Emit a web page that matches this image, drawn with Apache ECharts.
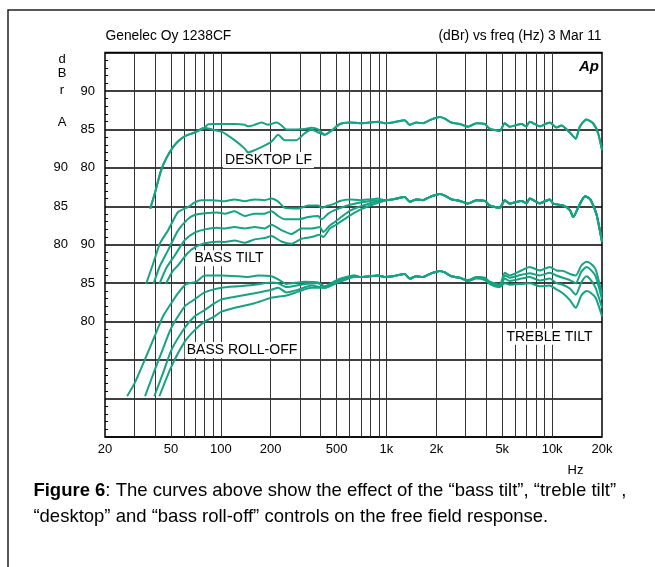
<!DOCTYPE html>
<html>
<head>
<meta charset="utf-8">
<script src="https://cdn.jsdelivr.net/npm/echarts@6.0.0/dist/echarts.min.js"></script>
<style>
html,body{margin:0;padding:0;background:#fff;}
#c{width:655px;height:567px;}
</style>
</head>
<body>
<div id="c"></div>
<script>
// ---------- axis ticks / labels ----------
const xLabelValues = [20, 50, 100, 200, 500, 1000, 2000, 5000, 10000, 20000];
const xLabelTexts  = ['20', '50', '100', '200', '500', '1k', '2k', '5k', '10k', '20k'];
const xGridValues  = [30, 40, 50, 60, 70, 80, 90, 100, 200, 300, 400, 500, 600, 700, 800, 900,
                      1000, 2000, 3000, 4000, 5000, 6000, 7000, 8000, 9000, 10000];
const yLabelValues = [80, 85, 90];

// ---------- shared mid / high band (dBr) ----------
const midFreq  = [523, 600, 690, 792, 889, 976, 1096, 1288, 1382, 1516, 1662, 1824, 2096, 2247,
                  2466, 2768, 3108, 3490, 3920, 4200, 4828, 5176, 5546, 6524, 6996, 7328, 8420, 9674];
const midLevel = [85.7, 85.9, 85.8, 85.9, 86.0, 85.8, 85.9, 86.2, 85.6, 85.9, 85.8, 86.2, 86.6, 86.4,
                  85.9, 85.7, 85.35, 85.8, 85.7, 85.1, 84.8, 85.8, 85.35, 85.7, 85.4, 86.0, 85.4, 85.9];

// ---------- DESKTOP LF group ----------
const deskFlatFreq  = [37.5, 40, 43.5, 47, 51.5, 55.5, 60.5, 69.6, 79.6, 83.7, 92, 100, 121, 139.5, 146,
                       160, 176, 193, 217, 230, 249, 286, 321, 352, 387, 424, 470];
const deskFlatLevel = [74.7, 76.7, 79.6, 81.3, 82.7, 83.5, 84.1, 84.6, 85.2, 85.65, 85.7, 85.7, 85.7, 85.6, 85.4,
                       85.6, 85.9, 85.6, 85.9, 85.6, 85.0, 85.0, 85.05, 85.2, 85.0, 84.3, 84.9];
const deskOnFreq    = [37.5, 40, 43.5, 47, 51.5, 55.5, 60.5, 69.6, 79.6, 92, 101, 121, 139.5, 146, 160,
                       176, 202, 222, 243, 286, 321, 352, 387, 424, 470];
const deskOnLevel   = [74.7, 76.7, 79.6, 81.3, 82.7, 83.5, 84.1, 84.6, 85.2, 84.9, 84.7, 83.6, 82.5, 82.0, 82.3,
                       82.7, 83.4, 84.3, 83.6, 83.6, 84.5, 85.0, 84.6, 84.3, 84.9];
const deskTailFreq  = [10612, 11378, 12778, 13888, 14680, 16100, 17674, 18946, 20000];
const deskTailLevel = [85.26, 85.5, 84.6, 83.8, 85.35, 86.3, 85.8, 84.5, 82.3];

// ---------- BASS TILT group ----------
const tilt0Freq  = [35.4, 39, 43, 48.1, 55.2, 63.4, 69.6, 76.4, 90, 105.6, 121, 139.5, 160, 184, 202,
                    222, 243, 293, 337, 387, 405, 445, 488];
const tilt0Level = [74.9, 77.5, 80.2, 81.9, 84.26, 84.9, 85.5, 85.8, 85.8, 85.65, 85.9, 85.65, 85.9, 85.8, 86.0,
                    85.6, 84.8, 84.7, 85.1, 85.1, 84.8, 85.1, 85.35];
const tilt1Freq  = [39.2, 43, 48.1, 55, 63, 70, 80, 95, 105.6, 121, 139.5, 160, 184, 202, 222, 243, 293,
                    337, 387, 405, 445, 488, 600, 700, 800, 900];
const tilt1Level = [74.9, 77.3, 79.3, 81.8, 83.3, 83.9, 84.1, 84.2, 84.04, 84.35, 83.74, 84.04, 84.04, 84.35,
                    83.74, 83.3, 83.3, 83.6, 83.74, 83.3, 84.04, 84.5, 85.2, 85.5, 85.7, 85.8];
const tilt2Freq  = [42.6, 47, 52.7, 60.6, 70, 80, 95, 105.6, 121, 139.5, 160, 184, 202, 232, 267, 307,
                    353, 396, 415, 455, 488, 600, 700, 800, 900];
const tilt2Level = [74.9, 77.0, 78.6, 80.6, 81.6, 82.0, 82.2, 82.1, 82.3, 82.1, 82.3, 82.1, 82.6, 81.9, 81.4,
                    82.1, 82.1, 82.3, 81.65, 82.5, 82.96, 84.4, 85.0, 85.4, 85.7];
const tilt3Freq  = [46.6, 51, 55, 63, 70, 80, 95, 105.6, 121, 139.5, 160, 184, 202, 232, 267, 307, 353,
                    396, 415, 455, 488, 600, 700, 800, 900, 1000];
const tilt3Level = [74.9, 76.5, 77.3, 78.9, 79.7, 80.2, 80.4, 80.35, 80.56, 80.26, 80.7, 80.87, 81.13, 80.43,
                    80.13, 80.78, 81.0, 81.3, 81.0, 82.1, 82.5, 83.8, 84.6, 85.1, 85.5, 85.8];
const tiltTailFreq  = [10152, 11667, 12800, 13400, 14700, 15800, 17000, 18500, 20000];
const tiltTailLevel = [85.35, 85.1, 84.5, 83.6, 85.3, 86.3, 85.9, 84.0, 80.4];

// ---------- BASS ROLL-OFF / TREBLE TILT group ----------
const roll0Freq  = [27.2, 30.2, 34.7, 39.9, 44.8, 50.3, 55.2, 62, 71.3, 79.9, 100.9, 127, 146, 168, 202,
                    222, 249, 321, 387, 424, 511, 644];
const roll0Level = [70.3, 72.0, 75.0, 78.1, 80.7, 82.4, 83.7, 84.9, 85.2, 86.0, 86.0, 85.9, 85.8, 86.0, 85.9,
                    85.5, 84.9, 85.2, 85.1, 84.6, 85.5, 86.0];
const roll1Freq  = [34.9, 39.9, 44.8, 50.3, 60.6, 69.6, 79.9, 100.9, 127, 160, 202, 222, 249, 321, 387,
                    424, 511, 644];
const roll1Level = [70.3, 73.7, 76.5, 79.2, 82.0, 82.9, 83.8, 84.4, 84.6, 84.8, 85.1, 85.0, 84.5, 84.9, 85.0,
                    84.5, 85.4, 86.0];
const roll2Freq  = [39.7, 44.8, 50.3, 60.6, 69.6, 79.9, 91.9, 100.9, 127, 160, 202, 222, 249, 293, 352,
                    424, 511, 644];
const roll2Level = [70.3, 73.3, 76.3, 79.2, 80.7, 81.5, 82.4, 82.9, 83.3, 83.7, 84.15, 84.4, 83.8, 84.15, 84.7,
                    84.4, 85.2, 85.9];
const roll3Freq  = [42.6, 50.3, 60.6, 69.6, 79.9, 91.9, 100.9, 127, 160, 202, 249, 293, 352, 424, 511, 644];
const roll3Level = [70.3, 74.15, 77.4, 78.9, 80.0, 80.7, 81.3, 81.9, 82.4, 83.1, 83.4, 83.9, 84.4, 84.4, 85.1, 85.8];

const trebleFreq  = [3108, 3490, 3920, 4200, 4828, 5176, 5546, 6524, 7328, 8420, 9674, 10612, 11600,
                     12800, 13888, 15000, 16100, 17000, 18300, 20000];
const treble0Level = [85.4, 85.8, 85.7, 85.2, 84.8, 86.35, 86.0, 86.65, 87.1, 86.65, 87.1, 86.65, 86.6,
                      86.2, 86.0, 87.3, 87.8, 87.6, 86.8, 83.5];
const treble1Level = [85.35, 85.8, 85.6, 85.1, 84.7, 86.0, 85.7, 86.1, 86.3, 86.0, 86.35, 86.0, 85.7,
                      85.4, 85.0, 86.5, 87.1, 86.8, 85.9, 82.9];
const treble2Level = [85.3, 85.7, 85.5, 85.0, 84.6, 85.6, 85.3, 85.6, 85.8, 85.35, 85.6, 85.0, 84.8,
                      84.3, 83.5, 85.1, 85.9, 85.5, 84.4, 81.8];
const treble3Level = [85.3, 85.6, 85.4, 84.9, 84.5, 85.0, 84.8, 84.9, 85.0, 84.6, 84.7, 84.2, 83.7,
                      82.8, 81.8, 83.4, 84.0, 83.8, 83.1, 80.7];

// ---------- build curves: low part + shared band + high part ----------
function curve(lfF, lfV, hfF, hfV) {
  const pts = lfF.map((f, i) => [f, lfV[i]]);
  const lo = lfF[lfF.length - 1];
  const hi = hfF[0];
  midFreq.forEach((f, i) => { if (f > lo && f < hi) pts.push([f, midLevel[i]]); });
  hfF.forEach((f, i) => pts.push([f, hfV[i]]));
  return pts;
}

const GREEN = '#17a283';
const FONT = '"Liberation Sans", Arial, Helvetica, sans-serif';

function line(data, yAxisIndex) {
  return {
    type: 'line', data, yAxisIndex, xAxisIndex: 0,
    symbol: 'none', showSymbol: false, smooth: 0.2, silent: true,
    lineStyle: { color: GREEN, width: 2 }, itemStyle: { color: GREEN },
    z: 3, animation: false
  };
}

function yAxisDef(min, max, margin, primary) {
  return {
    type: 'value', min, max, interval: 5, position: 'left',
    axisLine: { show: false },
    axisTick: { show: false, inside: true },
    minorTick: primary ? { show: true, splitNumber: 5, length: 3, lineStyle: { color: '#000', width: 1 } } : { show: false },
    splitLine: primary ? { show: true, lineStyle: { color: '#000', width: 1.5 } } : { show: false },
    minorSplitLine: { show: false },
    axisLabel: { customValues: yLabelValues, margin, color: '#000', fontSize: 13, fontFamily: FONT }
  };
}

function txt(text, x, y, size, opts) {
  return {
    type: 'text', x, y, z: 1, silent: true,
    style: Object.assign({
      text, fill: '#000', fontSize: size, fontFamily: FONT,
      textAlign: 'center', align: 'center', textVerticalAlign: 'middle', verticalAlign: 'middle'
    }, opts || {})
  };
}

const option = {
  animation: false,
  backgroundColor: '#fff',
  grid: { left: 105, top: 52.5, width: 497, height: 384.5, show: true, borderColor: '#000', borderWidth: 1.5, backgroundColor: 'transparent' },
  xAxis: {
    type: 'log', logBase: 10, min: 20, max: 20000,
    axisLine: { show: false },
    axisTick: { show: false, customValues: xGridValues },
    minorTick: { show: false },
    splitLine: { show: true, lineStyle: { color: '#333', width: 1 } },
    minorSplitLine: { show: false },
    axisLabel: {
      customValues: xLabelValues, margin: 6, color: '#000', fontSize: 13, fontFamily: FONT,
      formatter: v => {
        const i = xLabelValues.findIndex(t => Math.abs(t - v) / t < 1e-4);
        return i >= 0 ? xLabelTexts[i] : '';
      }
    }
  },
  yAxis: [
    yAxisDef(45, 95, 10, true),
    yAxisDef(55, 105, 37, false),
    yAxisDef(65, 115, 10, false)
  ],
  series: [
    line(curve(deskFlatFreq, deskFlatLevel, deskTailFreq, deskTailLevel), 0),
    line(curve(deskOnFreq, deskOnLevel, deskTailFreq, deskTailLevel), 0),
    line(curve(tilt0Freq, tilt0Level, tiltTailFreq, tiltTailLevel), 1),
    line(curve(tilt1Freq, tilt1Level, tiltTailFreq, tiltTailLevel), 1),
    line(curve(tilt2Freq, tilt2Level, tiltTailFreq, tiltTailLevel), 1),
    line(curve(tilt3Freq, tilt3Level, tiltTailFreq, tiltTailLevel), 1),
    line(curve(roll0Freq, roll0Level, trebleFreq, treble0Level), 2),
    line(curve(roll1Freq, roll1Level, trebleFreq, treble1Level), 2),
    line(curve(roll2Freq, roll2Level, trebleFreq, treble2Level), 2),
    line(curve(roll3Freq, roll3Level, trebleFreq, treble3Level), 2)
  ],
  graphic: { elements: [
    { type: 'rect', z: 0, silent: true, shape: { x: 8, y: 10, width: 700, height: 620 },
      style: { fill: 'none', stroke: '#222', lineWidth: 1.5 } },
    txt('Genelec Oy 1238CF', 105.5, 36, 13.8, { textAlign: 'left', align: 'left' }),
    txt('(dBr) vs freq (Hz) 3 Mar 11', 601.5, 36, 13.8, { textAlign: 'right', align: 'right' }),
    txt('d', 62, 59, 13),
    txt('B', 62, 73, 13),
    txt('r', 62, 90, 13),
    txt('A', 62, 122.3, 13),
    txt('Ap', 599, 67, 15, { textAlign: 'right', align: 'right', fontWeight: 'bold', fontStyle: 'italic' }),
    txt('DESKTOP LF', 268.5, 160, 14, { backgroundColor: '#fff', padding: [1, 2] }),
    txt('BASS TILT', 229, 258.3, 14, { backgroundColor: '#fff', padding: [1, 2] }),
    txt('BASS ROLL-OFF', 242, 350, 14, { backgroundColor: '#fff', padding: [1, 2] }),
    txt('TREBLE TILT', 549.5, 336.7, 14, { backgroundColor: '#fff', padding: [1, 2] }),
    txt('Hz', 575.5, 470, 13),
    txt('{b|Figure 6}: The curves above show the effect of the “bass tilt”, “treble tilt” ,', 33.4, 491, 18.5,
        { textAlign: 'left', align: 'left', rich: { b: { fontWeight: 'bold', fontSize: 18.5, fontFamily: FONT, fill: '#000' } } }),
    txt('“desktop” and “bass roll-off” controls on the free field response.', 33.4, 517, 18.5,
        { textAlign: 'left', align: 'left' })
  ] }
};

const chart = echarts.init(document.getElementById('c'), null, { renderer: 'canvas', width: 655, height: 567 });
chart.setOption(option);
</script>
</body>
</html>
